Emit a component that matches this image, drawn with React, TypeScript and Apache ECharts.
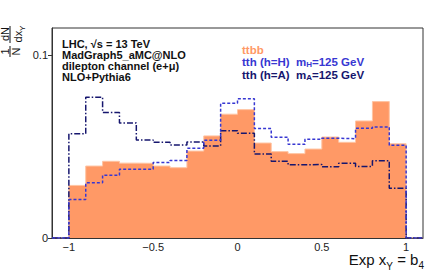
import React, { useEffect, useRef } from "react";
import * as echarts from "echarts";

// Bin edges of the histogram (x_Y = b_4)
const binEdges = [-1, -0.9, -0.8, -0.7, -0.6, -0.5, -0.4, -0.3, -0.2, -0.1, 0, 0.1, 0.2, 0.3, 0.4, 0.5, 0.6, 0.7, 0.8, 0.9, 1];

// 1/N dN/dx per bin
const ttbb = [0.0288, 0.0394, 0.042, 0.041, 0.0409, 0.0394, 0.0385, 0.0476, 0.0559, 0.0678, 0.0703, 0.052, 0.0473, 0.0462, 0.0487, 0.0553, 0.0524, 0.0641, 0.0747, 0.0516];
const tthH = [0.0211, 0.0302, 0.0343, 0.0377, 0.0377, 0.0414, 0.0425, 0.0491, 0.0535, 0.0738, 0.0762, 0.0599, 0.0552, 0.0513, 0.0541, 0.0546, 0.0544, 0.0601, 0.0608, 0.0508];
const tthA = [0.0571, 0.0771, 0.0687, 0.063, 0.0537, 0.0524, 0.0509, 0.0526, 0.0504, 0.0588, 0.0574, 0.046, 0.042, 0.0401, 0.0402, 0.039, 0.0409, 0.0392, 0.0423, 0.0273];

const xTicks = [-1, -0.5, 0, 0.5, 1];
const yTicks = [0, 0.1];
const X_MIN = -1.1;
const X_MAX = 1.1;
const Y_MAX = 0.115;

const infoLines = ["LHC, \u221As = 13 TeV", "MadGraph5_aMC@NLO", "dilepton channel (e+\u03BC)", "NLO+Pythia6"];

const FONT = '"Liberation Sans", Arial, Helvetica, sans-serif';
const ORANGE = "#FF9966";
const BLUE = "#3737d2";
const NAVY = "#16166e";

function stepPoints(vals: number[]): number[][] {
  const pts: number[][] = [[X_MIN, 0], [binEdges[0], 0]];
  for (let i = 0; i < vals.length; i++) {
    pts.push([binEdges[i], vals[i]]);
    pts.push([binEdges[i + 1], vals[i]]);
  }
  pts.push([binEdges[binEdges.length - 1], 0]);
  pts.push([X_MAX, 0]);
  return pts;
}

const fmt = (v: number) => String(v).replace("-", "\u2212");

export default function App() {
  const ref = useRef<HTMLDivElement>(null);
  useEffect(() => {
    if (!ref.current) return;
    const chart = echarts.init(ref.current, undefined, { renderer: "svg" });
    const legRich = (color: string) => ({
      a: { fontFamily: FONT, fontWeight: "bold", fontSize: 11.5, fill: color, lineHeight: 11, verticalAlign: "top" },
      s: { fontFamily: FONT, fontWeight: "bold", fontSize: 8, fill: color, lineHeight: 6, padding: [7, 0, 0, 0] },
    });
    chart.setOption({
      animation: false,
      grid: { left: 52, right: 9, top: 28, bottom: 36, show: true, borderColor: "#333", borderWidth: 1, backgroundColor: "transparent" },
      xAxis: {
        type: "value",
        min: X_MIN,
        max: X_MAX,
        axisLine: { onZero: false, lineStyle: { color: "#333", width: 1 } },
        axisTick: { inside: true, length: 6, customValues: xTicks, lineStyle: { color: "#333" } },
        axisLabel: { customValues: xTicks, formatter: fmt, fontFamily: FONT, fontSize: 11, color: "#222", margin: 3 },
        splitLine: { show: false },
      },
      yAxis: {
        type: "value",
        min: 0,
        max: Y_MAX,
        axisLine: { show: true, onZero: false, lineStyle: { color: "#333", width: 1 } },
        axisTick: { inside: false, length: 4, customValues: yTicks, lineStyle: { color: "#333" } },
        axisLabel: { customValues: yTicks, formatter: fmt, fontFamily: FONT, fontSize: 11, color: "#222", margin: 4 },
        splitLine: { show: false },
      },
      series: [
        {
          name: "ttbb",
          type: "line",
          data: stepPoints(ttbb),
          symbol: "none",
          lineStyle: { color: "#FFC4A2", width: 1 },
          areaStyle: { color: ORANGE, opacity: 1 },
          z: 1,
        },
        {
          name: "tth (h=A)",
          type: "line",
          data: stepPoints(tthA),
          symbol: "none",
          lineStyle: { color: NAVY, width: 1.5, type: [6, 2, 1.5, 2] },
          z: 2,
        },
        {
          name: "tth (h=H)",
          type: "line",
          data: stepPoints(tthH),
          symbol: "none",
          lineStyle: { color: BLUE, width: 1.5, type: [3, 2] },
          z: 3,
        },
      ],
      graphic: [
        {
          type: "text", x: 62, y: 38,
          style: { text: infoLines.join("\n"), fontFamily: FONT, fontWeight: "bold", fontSize: 11, lineHeight: 11, fill: "#111", verticalAlign: "top" },
        },
        { type: "text", x: 242, y: 44.5, style: { fontFamily: FONT, fontWeight: "bold", fontSize: 11.5, lineHeight: 11, fill: ORANGE, text: "ttbb", verticalAlign: "top" } },
        { type: "text", x: 242, y: 55.5, style: { text: "{a|tth (h=H)  m}{s|H}{a|=125 GeV}", rich: legRich(BLUE), verticalAlign: "top" } },
        { type: "text", x: 242, y: 68.5, style: { text: "{a|tth (h=A)  m}{s|A}{a|=125 GeV}", rich: legRich(NAVY), verticalAlign: "top" } },
        {
          type: "text", x: 424, y: 252,
          style: {
            text: "{a|Exp x}{y|Y}{a| = b}{f|4}",
            align: "right", verticalAlign: "top",
            rich: {
              a: { fontFamily: FONT, fontSize: 15, fill: "#111", lineHeight: 14, verticalAlign: "top" },
              y: { fontFamily: FONT, fontSize: 10, fill: "#111", lineHeight: 8, padding: [14, 0, 0, 0] },
              f: { fontFamily: FONT, fontSize: 10, fill: "#111", lineHeight: 8, padding: [8, 0, 0, 0], verticalAlign: "top" },
            },
          },
        },
        // rotated y-axis title: 1/N dN/dx_Y
        { type: "text", x: 5, y: 34, rotation: Math.PI / 2, style: { text: "dN", fontFamily: FONT, fontSize: 11, fill: "#111", align: "center", verticalAlign: "middle" } },
        { type: "text", x: 5, y: 51.5, rotation: Math.PI / 2, style: { text: "1", fontFamily: FONT, fontSize: 11, fill: "#111", align: "center", verticalAlign: "middle" } },
        { type: "line", shape: { x1: 10, y1: 26, x2: 10, y2: 43 }, style: { stroke: "#111", lineWidth: 1 } },
        { type: "line", shape: { x1: 10, y1: 46, x2: 10, y2: 57 }, style: { stroke: "#111", lineWidth: 1 } },
        { type: "text", x: 16, y: 51.5, rotation: Math.PI / 2, style: { text: "N", fontFamily: FONT, fontSize: 11, fill: "#111", align: "center", verticalAlign: "middle" } },
        {
          type: "text", x: 18, y: 34, rotation: Math.PI / 2,
          style: {
            text: "{a|dx}{s|Y}", align: "center", verticalAlign: "middle",
            rich: {
              a: { fontFamily: FONT, fontSize: 11, fill: "#111", lineHeight: 13 },
              s: { fontFamily: FONT, fontSize: 8, fill: "#111", lineHeight: 8, padding: [9, 0, 0, 0] },
            },
          },
        },
      ],
    });
    return () => chart.dispose();
  }, []);
  return <div ref={ref} style={{ position: "absolute", left: 0, top: 0, width: 432, height: 274 }} />;
}
